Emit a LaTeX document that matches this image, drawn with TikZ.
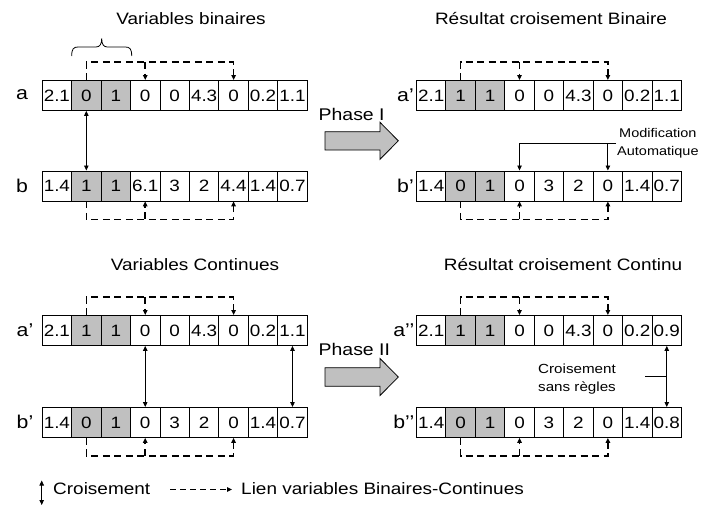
\documentclass[tikz,border=0pt]{standalone}
\usepackage{fontspec}
\setmainfont{Liberation Sans}[FakeStretch=1.15]
\usetikzlibrary{arrows.meta,calc}
\definecolor{cellgray}{RGB}{192,192,192}

% one chromosome: name, left x, top y, list of nine genes
\newcommand\chromosome[4]{%
  \foreach \v [count=\i] in {#4} {%
    \ifnum\i>1 \ifnum\i<4 \def\cfill{cellgray}\else\def\cfill{white}\fi
    \else \def\cfill{white}\fi
    \node[gene,fill=\cfill] (#1-\i) at ({#2+(\i-1)*29.45},#3) {\v};
  }%
}
% dashed binary/continuous links drawn above or below a chromosome
\newcommand\linksabove[1]{%
  \coordinate (#1-up) at ([yshift=18pt]#1-2.north);
  \draw[link] (#1-2.north) -- (#1-up) -| (#1-7.north);
  \draw[link] (#1-up -| #1-4.north) -- (#1-4.north);
}
\newcommand\linksbelow[1]{%
  \coordinate (#1-dn) at ([yshift=-18pt]#1-2.south);
  \draw[link] (#1-2.south) -- (#1-dn) -| (#1-7.south);
  \draw[link] (#1-dn -| #1-4.south) -- (#1-4.south);
}

\begin{document}
\begin{tikzpicture}[x=1pt,y=-1pt,
  gene/.style={draw=black,line width=0.9pt,minimum width=29.45pt,minimum height=30pt,
    inner sep=0pt,anchor=north west,font=\fontsize{16.4}{17}\selectfont},
  link/.style={line width=1.5pt,dash pattern=on 7pt off 4.5pt,-{Triangle[length=5pt,width=4.5pt]}},
  cross/.style={line width=0.8pt,{Triangle[length=5pt,width=4.5pt]}-{Triangle[length=5pt,width=4.5pt]}},
  plain/.style={line width=0.8pt,-{Triangle[length=5pt,width=4.5pt]}},
  title/.style={font=\fontsize{16.5}{18}\selectfont,inner sep=0pt},
  rowlabel/.style={font=\fontsize{18.5}{19}\selectfont,inner sep=0pt},
  phase/.style={font=\fontsize{16.9}{18}\selectfont,inner sep=0pt,anchor=base west},
  note/.style={align=center,inner sep=1pt},
  bigarrow/.style={draw=black,line width=0.8pt,fill=cellgray,line join=miter},
  legend/.style={font=\fontsize{16.5}{18}\selectfont,inner sep=0pt,anchor=west}]

\fill[white] (0,0) rectangle (708,506);
\useasboundingbox (0,0) rectangle (708,506);

% titles
\node[title] (t1) at (191,19) {Variables binaires};
\node[title] (t2) at (551,19) {Résultat croisement Binaire};
\node[title] (t3) at (195,265) {Variables Continues};
\node[title] (t4) at (563,265) {Résultat croisement Continu};

% chromosomes
\chromosome{LA}{41.7}{80}{2.1,0,1,0,0,4.3,0,0.2,1.1}
\chromosome{LB}{41.7}{170.5}{1.4,1,1,6.1,3,2,4.4,1.4,0.7}
\chromosome{RA}{416}{80}{2.1,1,1,0,0,4.3,0,0.2,1.1}
\chromosome{RB}{416}{170.5}{1.4,0,1,0,3,2,0,1.4,0.7}
\chromosome{LC}{41.7}{315}{2.1,1,1,0,0,4.3,0,0.2,1.1}
\chromosome{LD}{41.7}{407}{1.4,0,1,0,3,2,0,1.4,0.7}
\chromosome{RC}{416}{315}{2.1,1,1,0,0,4.3,0,0.2,0.9}
\chromosome{RD}{416}{407}{1.4,0,1,0,3,2,0,1.4,0.8}

% row labels
\node[rowlabel] (la) at (22,95) {a};
\node[rowlabel] (lb) at (22,185.5) {b};
\node[rowlabel] (lc) at (25,330) {a’};
\node[rowlabel] (ld) at (25,422) {b’};
\node[rowlabel,anchor=east] (ra) at (414,95) {a’};
\node[rowlabel,anchor=east] (rb) at (414,185.5) {b’};
\node[rowlabel,anchor=east] (rc) at (414.5,330) {a’’};
\node[rowlabel,anchor=east] (rd) at (414.5,422) {b’’};

% brace over the binary genes
\draw[line width=0.8pt] (71.7,56) .. controls (71.7,49) and (73.5,47) .. (78,47)
  -- (96,47) .. controls (100,47) and (101.7,44) .. (101.7,38.5)
  .. controls (101.7,44) and (103.4,47) .. (107.4,47)
  -- (125.4,47) .. controls (129.9,47) and (131.7,49) .. (131.7,56);

% dashed links
\linksabove{LA}
\linksbelow{LB}
\linksabove{RA}
\linksbelow{RB}
\linksabove{LC}
\linksbelow{LD}
\linksabove{RC}
\linksbelow{RD}

% crossings
\draw[cross] (LA-2.south) -- (LB-2.north);
\draw[cross] (LC-4.south) -- (LD-4.north);
\draw[cross] (LC-9.south) -- (LD-9.north);
\draw[cross] (RC-9.south) -- (RD-9.north);

% automatic modification
\node[note,anchor=west,font=\fontsize{12.6}{17.5}\selectfont] (modif) at (616,143) {Modification\\Automatique};
\draw[plain] (modif.west) -| (RB-4.north);
\draw[plain] (modif.west -| RB-7.north) -- (RB-7.north);

% free crossing
\node[note,font=\fontsize{13.2}{18}\selectfont] (free) at (577,379.5) {Croisement\\sans règles};
\coordinate (freetick) at (645,376.7);
\draw[line width=0.8pt] (freetick) -- (freetick -| RC-9.south);

% phases
\node[phase] (p1) at (318.5,120.3) {Phase I};
\draw[bigarrow] (325,131.7) -- (380,131.7) -- (380,122.3) -- (398.3,140.8)
  -- (380,159.3) -- (380,150) -- (325,150) -- cycle;
\node[phase] (p2) at (318.5,355.7) {Phase II};
\draw[bigarrow] (325,367.7) -- (380,367.7) -- (380,358.5) -- (398.3,377)
  -- (380,395.5) -- (380,386.3) -- (325,386.3) -- cycle;

% legend
\coordinate (lg1) at (41.7,480.5);
\coordinate (lg2) at (41.7,505);
\draw[cross] (lg1) -- (lg2);
\node[legend] (lgc) at (53,489) {Croisement};
\coordinate (lg3) at (170,489.5);
\coordinate (lg4) at (232,489.5);
\draw[link,line width=1.2pt,dash pattern=on 6pt off 4pt] (lg3) -- (lg4);
\node[legend] (lgl) at (241,489) {Lien variables Binaires-Continues};

\end{tikzpicture}
\end{document}
